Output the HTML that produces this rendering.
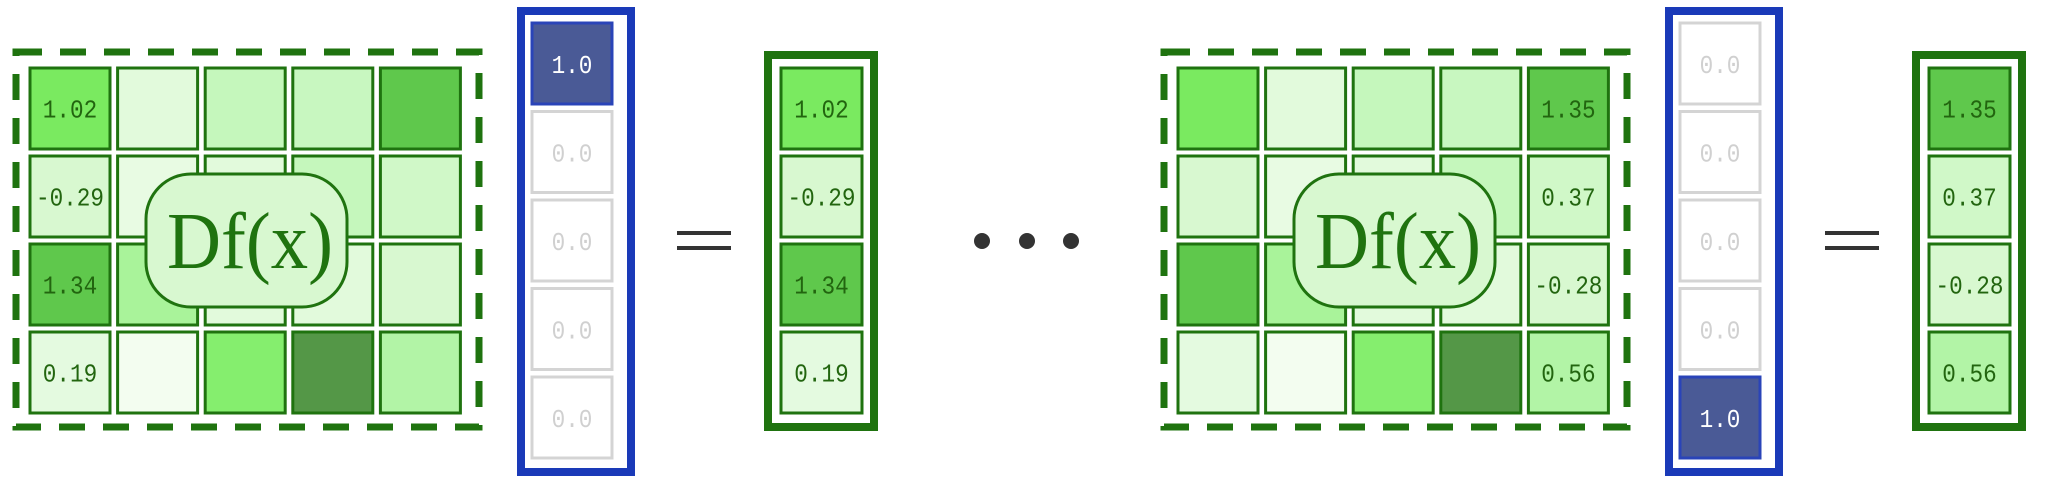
<!DOCTYPE html>
<html><head><meta charset="utf-8">
<style>
html,body{margin:0;padding:0;background:#fff;}
svg{display:block;}
.mono{font-family:"Liberation Mono",monospace;}
</style></head>
<body>
<svg id="fig" width="2048" height="482" viewBox="0 0 2048 482" xmlns="http://www.w3.org/2000/svg"></svg>
<script>
// Matrix cell fill colours (4 rows x 5 cols)
const matrixColors = [
  ["#7aea60","#e2fadc","#c5f7bc","#c8f7c0","#5fc84c"],
  ["#d8f8d0","#e8fbe3","#e2fadc","#c5f7bc","#d0f8c8"],
  ["#5fc84c","#a9f39a","#e2fadc","#e2fadc","#d8f8d0"],
  ["#e4fae0","#f3fdf0","#85ee6e","#549747","#b2f4a6"]
];
// Per-panel data
const panelOffsets = [0, 1148];
const panelColumn = [0, 4];
const columnLabels = [
  ["1.02","-0.29","1.34","0.19"],
  ["1.35","0.37","-0.28","0.56"]
];
const basisVectors = [
  ["1.0","0.0","0.0","0.0","0.0"],
  ["0.0","0.0","0.0","0.0","1.0"]
];
const ellipsisDots = [982, 1027, 1071];

const svg = document.getElementById('fig');
const NS = 'http://www.w3.org/2000/svg';
function mk(tag, attrs, parent){
  const e = document.createElementNS(NS, tag);
  for (const k in attrs) e.setAttribute(k, attrs[k]);
  (parent||svg).appendChild(e);
  return e;
}
const cellX = c => 30 + c*87.6;
const cellY = r => 68 + r*88;
const CW = 80, CH = 81;
function label(parent, x, y, s, fill){
  const t = mk('text', {x:x, y:y, 'text-anchor':'middle', 'font-size':26, fill:fill, class:'mono', textLength:s.length*13.6, lengthAdjust:'spacingAndGlyphs'}, parent);
  t.textContent = s;
  return t;
}

panelOffsets.forEach((ox, p) => {
  const g = mk('g', {transform:`translate(${ox},0)`});
  
  
  const db = mk('rect', {x:16, y:52, width:463, height:375, fill:'none', stroke:'#1f730f', 'stroke-width':7, 'stroke-dasharray':'26 18'}, g);
  
  
  matrixColors.forEach((row, r) => row.forEach((col, c) => {
    const rc = mk('rect', {x:cellX(c), y:cellY(r), width:CW, height:CH, fill:col, stroke:'#1f730f', 'stroke-width':3}, g);
    
    
    if (c === panelColumn[p]) {
      const t = label(g, cellX(c)+CW/2, cellY(r)+CH/2+9, columnLabels[p][r], '#22650f');
      
      
    }
  }));
  const bd = mk('rect', {x:146, y:174, width:201, height:133, rx:45, ry:45, fill:'#d8f8d0', stroke:'#1f730f', 'stroke-width':3}, g);
  
  
  const dt = mk('text', {x:250, y:268, 'text-anchor':'middle', 'font-size':80, fill:'#1f730f', 'font-family':'Liberation Serif, serif', textLength:166, lengthAdjust:'spacingAndGlyphs'}, g);
  dt.textContent = 'Df(x)';
  
  
  const vb = mk('rect', {x:521, y:11, width:110, height:461, fill:'#fff', stroke:'#1a3ab8', 'stroke-width':8}, g);
  
  
  basisVectors[p].forEach((v, i) => {
    const on = v !== '0.0';
    const y = 23 + i*88.5;
    const rc = mk('rect', {x:532, y:y, width:80, height:81, fill:on?'#4a5a96':'#fff', stroke:on?'#2a44b8':'#d4d4d4', 'stroke-width':3}, g);
    
    
    const t = label(g, 572, y+50, v, on?'#ffffff':'#d0d0d0');
    
    
  });
  const eq = mk('g', {}, g);
  
  
  mk('rect', {x:677, y:231, width:54, height:4, fill:'#333'}, eq);
  mk('rect', {x:677, y:246, width:54, height:4, fill:'#333'}, eq);
  const ob = mk('rect', {x:768, y:55, width:106, height:372, fill:'#fff', stroke:'#1f730f', 'stroke-width':8}, g);
  
  
  columnLabels[p].forEach((v, r) => {
    const rc = mk('rect', {x:781, y:cellY(r), width:81, height:CH, fill:matrixColors[r][panelColumn[p]], stroke:'#1f730f', 'stroke-width':3}, g);
    
    
    const t = label(g, 821.5, cellY(r)+CH/2+9, v, '#22650f');
    
    
  });
});
ellipsisDots.forEach(x => {
  const d = mk('circle', {cx:x, cy:241, r:8, fill:'#333'});
  
  
});
</script>
</body></html>
